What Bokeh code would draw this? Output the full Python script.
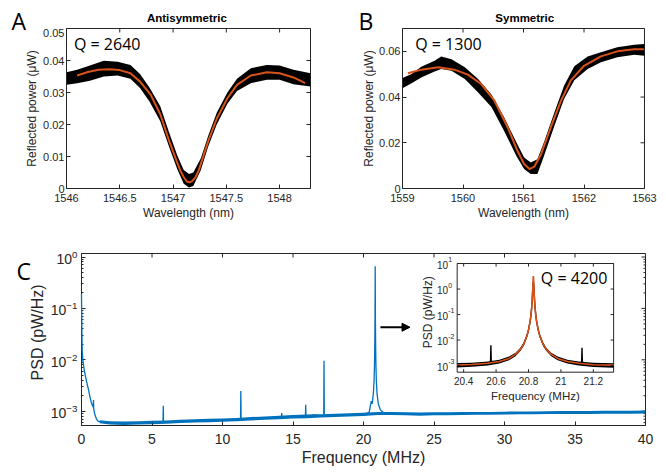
import math
from bokeh.plotting import figure
from bokeh.models import Range1d, FixedTicker, Label, Arrow, NormalHead, LogScale
from bokeh.layouts import column, row
from bokeh.embed import file_html
from bokeh.resources import INLINE
from bokeh.core.properties import value

# ---------------- data: panel A (antisymmetric) ----------------
A_FIT_WL = [1546.10, 1546.20, 1546.30, 1546.40, 1546.50, 1546.60, 1546.69, 1546.79,
            1546.88, 1546.96, 1547.04, 1547.07, 1547.10, 1547.13, 1547.155, 1547.18,
            1547.21, 1547.24, 1547.26, 1547.33, 1547.41, 1547.51, 1547.60, 1547.73,
            1547.88, 1548.00, 1548.13, 1548.24]
A_FIT_P = [0.0353, 0.0364, 0.0371, 0.0373, 0.0370, 0.0360, 0.0334, 0.0293,
           0.0232, 0.0152, 0.0080, 0.0055, 0.0036, 0.0022, 0.0019, 0.0023,
           0.0035, 0.0056, 0.0076, 0.0148, 0.0218, 0.0282, 0.0324, 0.0353,
           0.0363, 0.0360, 0.0347, 0.0329]
A_BAND_WL = [1546.00, 1546.10, 1546.22, 1546.35, 1546.48, 1546.60, 1546.69, 1546.78,
             1546.88, 1546.96, 1547.04, 1547.10, 1547.15, 1547.19, 1547.26, 1547.33,
             1547.41, 1547.51, 1547.60, 1547.73, 1547.88, 1548.00, 1548.13, 1548.29]
A_BAND_HI = [0.0363, 0.0371, 0.0384, 0.0399, 0.0396, 0.0386, 0.0358, 0.0315,
             0.0257, 0.0178, 0.0103, 0.0058, 0.0045, 0.0050, 0.0094, 0.0165,
             0.0237, 0.0300, 0.0343, 0.0376, 0.0386, 0.0384, 0.0371, 0.0360]
A_BAND_LO = [0.0324, 0.0329, 0.0337, 0.0350, 0.0353, 0.0343, 0.0314, 0.0271,
             0.0210, 0.0133, 0.0060, 0.0015, 0.0003, 0.0008, 0.0057, 0.0131,
             0.0200, 0.0265, 0.0305, 0.0329, 0.0340, 0.0340, 0.0326, 0.0319]
A_XTICKS = [1546, 1546.5, 1547, 1547.5, 1548]
A_XLABELS = ["1546", "1546.5", "1547", "1547.5", "1548"]
A_YTICKS = [0, 0.01, 0.02, 0.03, 0.04, 0.05]
A_YLABELS = ["0", "0.01", "0.02", "0.03", "0.04", "0.05"]

# ---------------- data: panel B (symmetric) ----------------
B_FIT_WL = [1559.09, 1559.31, 1559.59, 1559.86, 1560.08, 1560.30, 1560.52, 1560.74,
            1560.90, 1561.01, 1561.10, 1561.18, 1561.29, 1561.45, 1561.62, 1561.78,
            1562.00, 1562.28, 1562.55, 1562.83, 1562.99]
B_FIT_P = [0.0504, 0.0520, 0.0530, 0.0520, 0.0498, 0.0457, 0.0384, 0.0267,
           0.0165, 0.0107, 0.0085, 0.0096, 0.0150, 0.0267, 0.0384, 0.0472,
           0.0537, 0.0578, 0.0600, 0.0609, 0.0609]
B_BAND_WL = [1559.00, 1559.15, 1559.31, 1559.53, 1559.64, 1559.81, 1560.03, 1560.25,
             1560.47, 1560.68, 1560.88, 1561.01, 1561.12, 1561.23, 1561.34, 1561.51,
             1561.67, 1561.84, 1562.06, 1562.28, 1562.55, 1562.83, 1563.00]
B_BAND_HI = [0.0483, 0.0501, 0.0533, 0.0559, 0.0577, 0.0566, 0.0530, 0.0479,
             0.0411, 0.0312, 0.0203, 0.0136, 0.0114, 0.0128, 0.0203, 0.0333,
             0.0450, 0.0535, 0.0577, 0.0596, 0.0618, 0.0629, 0.0632]
B_BAND_LO = [0.0439, 0.0460, 0.0486, 0.0512, 0.0523, 0.0515, 0.0479, 0.0420,
             0.0357, 0.0252, 0.0143, 0.0085, 0.0063, 0.0063, 0.0143, 0.0273,
             0.0392, 0.0474, 0.0523, 0.0552, 0.0574, 0.0585, 0.0581]
B_XTICKS = [1559, 1560, 1561, 1562, 1563]
B_XLABELS = ["1559", "1560", "1561", "1562", "1563"]
B_YTICKS = [0, 0.02, 0.04, 0.06]
B_YLABELS = ["0", "0.02", "0.04", "0.06"]

# ---------------- data: panel C (PSD spectrum) ----------------
C_FREQ = [0.00, 0.02, 0.05, 0.10, 0.20, 0.30, 0.40, 0.50, 0.60, 0.70,
          0.80, 0.83, 0.85, 0.87, 0.95, 1.05, 1.15, 1.30, 2.0, 3.0,
          4.0, 5.0, 5.78, 5.80, 5.82, 6.0, 7.0, 8.0, 9.0, 10.0,
          11.0, 11.28, 11.30, 11.32, 12.0, 13.0, 14.0, 14.18, 14.20, 14.22,
          15.0, 15.88, 15.90, 15.92, 16.0, 16.5, 17.0, 17.18, 17.20, 17.22,
          18.0, 19.0, 20.0, 20.40, 20.55, 20.62, 20.70, 20.75, 20.78, 20.80,
          20.815, 20.825, 20.83, 20.835, 20.845, 20.86, 20.88, 20.91, 20.96, 21.05,
          21.20, 21.40, 22.0, 23.0, 24.0, 25.0, 26.0, 27.0, 28.0, 29.0,
          30.0, 31.0, 32.0, 33.0, 34.0, 35.0, 36.0, 37.0, 38.0, 39.0,
          40.0]
C_PSD = [0.19, 0.05, 0.015, 0.0095, 0.0062, 0.0045, 0.0034, 0.0026, 0.0019, 0.00145,
         0.00125, 0.0012, 0.00165, 0.0011, 0.00085, 0.00072, 0.00065, 0.00062, 0.00059, 0.00058,
         0.00059, 0.00060, 0.00061, 0.00128, 0.00061, 0.00061, 0.00063, 0.00065, 0.00066, 0.00067,
         0.00069, 0.00070, 0.00248, 0.00070, 0.00071, 0.00073, 0.00075, 0.00076, 0.00092, 0.00076,
         0.00077, 0.00079, 0.00134, 0.00079, 0.00079, 0.00085, 0.00081, 0.00081, 0.0096, 0.00081,
         0.00083, 0.00085, 0.00087, 0.00095, 0.00157, 0.0014, 0.0022, 0.004, 0.008, 0.02,
         0.06, 0.25, 0.66, 0.3, 0.06, 0.02, 0.008, 0.004, 0.0022, 0.0014,
         0.00105, 0.00095, 0.00090, 0.00089, 0.00088, 0.00089, 0.00089, 0.00090, 0.00091, 0.00091,
         0.00092, 0.00093, 0.00093, 0.00094, 0.00095, 0.00095, 0.00095, 0.00096, 0.00096, 0.00096,
         0.00097]
C_BAND_F = [1.3, 2, 3, 4, 5, 6, 7, 8, 9, 10, 11, 12, 13, 14, 15, 16, 17, 18, 19, 20,
            21, 22, 23, 24, 25, 26, 27, 28, 29, 30, 31, 32, 33, 34, 35, 36, 37, 38, 39, 40]
C_BAND_HI = [6.7e-4, 6.4e-4, 6.3e-4, 6.4e-4, 6.5e-4, 6.6e-4, 6.8e-4, 7.0e-4, 7.1e-4, 7.2e-4,
             7.4e-4, 7.7e-4, 7.9e-4, 8.2e-4, 8.4e-4, 8.6e-4, 8.7e-4, 8.9e-4, 9.1e-4, 9.3e-4,
             9.6e-4, 9.6e-4, 9.5e-4, 9.4e-4, 9.5e-4, 9.5e-4, 9.6e-4, 9.7e-4, 9.7e-4, 9.8e-4,
             9.9e-4, 9.9e-4, 10.0e-4, 10.1e-4, 10.1e-4, 10.1e-4, 10.2e-4, 10.2e-4, 10.2e-4, 10.3e-4]
C_BAND_LO = [5.8e-4, 5.5e-4, 5.4e-4, 5.5e-4, 5.6e-4, 5.7e-4, 5.9e-4, 6.0e-4, 6.1e-4, 6.2e-4,
             6.4e-4, 6.6e-4, 6.8e-4, 7.0e-4, 7.2e-4, 7.3e-4, 7.5e-4, 7.7e-4, 7.9e-4, 8.1e-4,
             8.4e-4, 8.4e-4, 8.3e-4, 8.2e-4, 8.3e-4, 8.3e-4, 8.4e-4, 8.5e-4, 8.5e-4, 8.6e-4,
             8.7e-4, 8.7e-4, 8.8e-4, 8.8e-4, 8.8e-4, 8.8e-4, 8.9e-4, 8.9e-4, 8.9e-4, 9.0e-4]
C_XTICKS = [0, 5, 10, 15, 20, 25, 30, 35, 40]
C_YTICKS = [1e-3, 1e-2, 1e-1, 1.0]

# ---------------- data: inset (zoom on mechanical mode) ----------------
INSET_F = [20.36, 20.42, 20.48, 20.54, 20.560, 20.566, 20.568, 20.570, 20.576, 20.62,
           20.68, 20.72, 20.75, 20.77, 20.79, 20.80, 20.81, 20.815, 20.82, 20.823,
           20.825, 20.827, 20.83, 20.833, 20.835, 20.837, 20.84, 20.845, 20.85, 20.86,
           20.87, 20.89, 20.91, 20.94, 20.98, 21.04, 21.11, 21.124, 21.128, 21.130,
           21.132, 21.136, 21.20, 21.26, 21.325]
INSET_PSD = [1.0e-3, 1.05e-3, 1.1e-3, 1.2e-3, 1.22e-3, 1.6e-3, 6.2e-3, 1.6e-3, 1.25e-3, 1.42e-3,
             1.9e-3, 2.7e-3, 4.3e-3, 6.9e-3, 0.0145, 0.025, 0.054, 0.093, 0.2, 0.39,
             0.68, 1.3, 2.0, 1.3, 0.68, 0.39, 0.2, 0.093, 0.054, 0.025,
             0.0145, 6.9e-3, 4.3e-3, 2.7e-3, 1.9e-3, 1.42e-3, 1.2e-3, 1.15e-3, 1.5e-3, 5.0e-3,
             1.5e-3, 1.12e-3, 1.05e-3, 1.0e-3, 0.98e-3]
INSET_BAND_F = [20.36, 20.45, 20.55, 20.62, 20.68, 20.72, 20.75, 20.77, 20.79, 20.80,
                20.81, 20.82, 20.825, 20.83, 20.835, 20.84, 20.85, 20.86, 20.87, 20.89,
                20.91, 20.94, 20.98, 21.04, 21.11, 21.20, 21.325]
INSET_BAND_HI = [1.25e-3, 1.3e-3, 1.45e-3, 1.7e-3, 2.25e-3, 3.2e-3, 5.0e-3, 8.0e-3, 0.017, 0.029,
                 0.062, 0.23, 0.75, 2.2, 0.75, 0.23, 0.062, 0.029, 0.017, 8.0e-3,
                 5.0e-3, 3.2e-3, 2.25e-3, 1.7e-3, 1.45e-3, 1.28e-3, 1.22e-3]
INSET_BAND_LO = [0.85e-3, 0.9e-3, 1.0e-3, 1.2e-3, 1.6e-3, 2.3e-3, 3.7e-3, 5.9e-3, 0.0123, 0.021,
                 0.046, 0.17, 0.6, 1.0, 0.6, 0.17, 0.046, 0.021, 0.0123, 5.9e-3,
                 3.7e-3, 2.3e-3, 1.6e-3, 1.2e-3, 1.0e-3, 0.88e-3, 0.83e-3]
INSET_FIT_F = [20.36, 20.45, 20.55, 20.62, 20.68, 20.72, 20.75, 20.77, 20.79, 20.80,
               20.81, 20.815, 20.82, 20.823, 20.825, 20.827, 20.8285, 20.83, 20.8315, 20.833,
               20.835, 20.837, 20.84, 20.845, 20.85, 20.86, 20.87, 20.89, 20.91, 20.94,
               20.98, 21.04, 21.11, 21.20, 21.325]
INSET_FIT_PSD = [1.05e-3, 1.10e-3, 1.23e-3, 1.44e-3, 1.91e-3, 2.74e-3, 4.33e-3, 6.95e-3, 0.0145, 0.0248,
                 0.054, 0.093, 0.20, 0.39, 0.68, 1.37, 2.4, 3.2, 2.4, 1.37,
                 0.68, 0.39, 0.20, 0.093, 0.054, 0.0248, 0.0145, 6.95e-3, 4.33e-3, 2.74e-3,
                 1.91e-3, 1.44e-3, 1.23e-3, 1.08e-3, 1.04e-3]
INSET_XLIM = (20.36, 21.325)
INSET_YLIM = (5.5e-4, 10.0)
INSET_XTICKS = [20.4, 20.6, 20.8, 21.0, 21.2]
INSET_XLABELS = ["20.4", "20.6", "20.8", "21", "21.2"]
INSET_YTICKS = [1e-3, 1e-2, 1e-1, 1.0, 10.0]
INSET_YEXP = ["-3", "-2", "-1", "0", "1"]

assert len(C_FREQ) == len(C_PSD)
assert len(INSET_F) == len(INSET_PSD)
assert len(INSET_FIT_F) == len(INSET_FIT_PSD)
assert len(INSET_BAND_F) == len(INSET_BAND_HI) == len(INSET_BAND_LO)

# ---------------- styling ----------------
INK = "#262626"
ORANGE = "#D95319"
BLUE = "#0072BD"
FONT = "Liberation Sans"
ANNOT_FONT = "Open Sans"


def style_axis(ax, tick_px, label_px, std, lstd, minor=False):
    ax.axis_line_color = INK
    ax.major_tick_line_color = INK
    ax.major_tick_in = 4
    ax.major_tick_out = 0
    ax.minor_tick_in = 2 if minor else 0
    ax.minor_tick_out = 0
    ax.minor_tick_line_color = INK if minor else None
    ax.major_label_text_font = FONT
    ax.major_label_text_font_size = f"{tick_px}px"
    ax.major_label_text_color = INK
    ax.major_label_standoff = std
    ax.axis_label_text_font = FONT
    ax.axis_label_text_font_size = f"{label_px}px"
    ax.axis_label_text_font_style = "normal"
    ax.axis_label_text_color = INK
    ax.axis_label_standoff = lstd


def mirror_ticks(p, xticks, yticks, fw, fh, xr, yr, ylog=False, yminor=(), tl=4.0):
    """Inward ticks on the top and right edges of the frame (box style)."""
    dx = tl * (xr[1] - xr[0]) / fw
    n = len(xticks)
    if ylog:
        f = 10 ** (tl * (math.log10(yr[1]) - math.log10(yr[0])) / fh)
        p.segment(x0=xticks, x1=xticks, y0=[yr[1]] * n, y1=[yr[1] / f] * n, line_color=INK)
    else:
        dy = tl * (yr[1] - yr[0]) / fh
        p.segment(x0=xticks, x1=xticks, y0=[yr[1]] * n, y1=[yr[1] - dy] * n, line_color=INK)
    m = len(yticks)
    p.segment(x0=[xr[1]] * m, x1=[xr[1] - dx] * m, y0=yticks, y1=yticks, line_color=INK)
    if yminor:
        k = len(yminor)
        p.segment(x0=[xr[1]] * k, x1=[xr[1] - dx / 2] * k, y0=list(yminor), y1=list(yminor),
                  line_color=INK)


def base_fig(**kw):
    p = figure(output_backend="svg", toolbar_location=None, **kw)
    p.xgrid.grid_line_color = None
    p.ygrid.grid_line_color = None
    p.outline_line_color = INK
    p.background_fill_color = "white"
    p.border_fill_color = "white"
    return p


def strip(w, h):
    """A plain text strip: its frame fills the whole area, coordinates in pixels."""
    s = figure(width=w, height=h, x_range=Range1d(0, w), y_range=Range1d(h, 0),
               x_axis_location=None, y_axis_location=None, min_border=0,
               output_backend="svg", toolbar_location=None)
    s.min_border_left = s.min_border_right = s.min_border_top = s.min_border_bottom = 0
    s.xgrid.grid_line_color = None
    s.ygrid.grid_line_color = None
    s.outline_line_color = None
    s.border_fill_color = "white"
    return s


def letter(s, x, y, t):
    # y is the vertical centre of the capital letter
    s.add_layout(Label(x=x, y=y, text=t, text_font=ANNOT_FONT, text_font_size="23px",
                       text_color="black", text_baseline="middle"))


def heading(s, x, y, t):
    s.add_layout(Label(x=x, y=y, text=t, text_font=FONT, text_font_size="11.5px",
                       text_font_style="bold", text_color="black", text_align="center",
                       text_baseline="middle"))


def vlabel(s, x, y, t, size):
    s.add_layout(Label(x=x, y=y, text=t, angle=math.pi / 2, text_font=FONT,
                       text_font_size=size, text_color=INK, text_align="center",
                       text_baseline="middle"))


HEAD_H, TOP_H = 28, 200


def spectrum_panel(xr, yr, xt, xl, yt, yl, width, left, right, fit_x, fit_y,
                   band_x, band_lo, band_hi, q_text, q_xy):
    bottom = 40
    p = base_fig(width=width, height=TOP_H, min_border_left=left, min_border_right=right,
                 min_border_top=0, min_border_bottom=bottom,
                 x_range=Range1d(*xr), y_range=Range1d(*yr))
    p.xaxis.ticker = FixedTicker(ticks=xt)
    p.yaxis.ticker = FixedTicker(ticks=yt)
    p.xaxis.major_label_overrides = dict(zip(xt, xl))
    p.yaxis.major_label_overrides = dict(zip(yt, yl))
    style_axis(p.xaxis[0], 11, 12, 5, 1)
    style_axis(p.yaxis[0], 11, 12, 2, 0)
    p.xaxis.axis_label = "Wavelength (nm)"
    fw, fh = width - left - right, TOP_H - bottom
    mirror_ticks(p, xt, yt, fw, fh, xr, yr)
    p.varea(x=band_x, y1=band_lo, y2=band_hi, fill_color="black")
    p.line(fit_x, fit_y, line_color=ORANGE, line_width=2)
    p.add_layout(Label(x=q_xy[0], y=q_xy[1], text=q_text, text_font=ANNOT_FONT,
                       text_font_size="16px", text_color="black",
                       text_baseline="middle"))
    return p


# top row: [strip A | heading A over panel A | strip B | heading B over panel B]
SA_W, SB_W = 40, 36
pA = spectrum_panel((1546, 1548.29), (0, 0.05), A_XTICKS, A_XLABELS,
                    A_YTICKS, A_YLABELS, 340 - SA_W, 66 - SA_W, 30, A_FIT_WL, A_FIT_P,
                    A_BAND_WL, A_BAND_LO, A_BAND_HI, "Q = 2640", (1546.07, 0.0451))
pB = spectrum_panel((1559, 1563), (0, 0.07), B_XTICKS, B_XLABELS,
                    B_YTICKS, B_YLABELS, 326 - SB_W, 61 - SB_W, 22, B_FIT_WL, B_FIT_P,
                    B_BAND_WL, B_BAND_LO, B_BAND_HI, "Q = 1300", (1559.21, 0.0634))

ylab_A = "Reflected power (\u03bcW)"
sA = strip(SA_W, HEAD_H + TOP_H)
letter(sA, 11, 20.5, "A")
vlabel(sA, 31.7, HEAD_H + (TOP_H - 40) / 2, ylab_A, "12px")
hA = strip(340 - SA_W, HEAD_H)
heading(hA, 188 - SA_W, 17.5, "Antisymmetric")

sB = strip(SB_W, HEAD_H + TOP_H)
letter(sB, 18, 20.8, "B")
vlabel(sB, 28, HEAD_H + (TOP_H - 40) / 2, ylab_A, "12px")
hB = strip(326 - SB_W, HEAD_H)
heading(hB, 522.5 - 340 - SB_W, 17.5, "Symmetric")

# ---------------- panel C ----------------
SC_W = 47                      # left strip: panel letter and y-axis title
CW, CH = 666 - SC_W, 242
FL, FR, FT, FB = 79 - SC_W, 21, 25, 45
FW, FH = CW - FL - FR, CH - FT - FB
C_XR, C_YR = (0, 40), (5.27e-4, 1.17)
pC = base_fig(width=CW, height=CH, min_border_left=FL, min_border_right=FR,
              min_border_top=FT, min_border_bottom=FB, x_range=Range1d(*C_XR),
              y_range=Range1d(*C_YR), y_axis_type="log")
minor_y = [m * d for d in [1e-4, 1e-3, 1e-2, 1e-1, 1.0] for m in range(2, 10)
           if C_YR[0] < m * d < C_YR[1]]
pC.xaxis.ticker = FixedTicker(ticks=C_XTICKS)
pC.yaxis.ticker = FixedTicker(ticks=C_YTICKS, minor_ticks=minor_y)
style_axis(pC.xaxis[0], 14, 16, 8, 2)
style_axis(pC.yaxis[0], 14, 16, 4, 0, minor=True)
pC.xaxis.axis_label = "Frequency (MHz)"
mirror_ticks(pC, C_XTICKS, C_YTICKS, FW, FH, C_XR, C_YR, ylog=True, yminor=minor_y)

pC.varea(x=C_BAND_F, y1=C_BAND_LO, y2=C_BAND_HI, fill_color=BLUE)
blue = pC.line(C_FREQ, C_PSD, line_color=BLUE, line_width=1.3)
blue.level = "overlay"

# inset placed through extra ranges (pixel box of the inset inside the frame)
C_TOP = HEAD_H + TOP_H
IL, IR, IT, IB = 456 - 79, 613 - 79, 263 - C_TOP - FT, 371.7 - C_TOP - FT
kx = (IR - IL) / (INSET_XLIM[1] - INSET_XLIM[0])
ly0, ly1 = math.log10(INSET_YLIM[0]), math.log10(INSET_YLIM[1])
ky = (IB - IT) / (ly1 - ly0)
pC.extra_x_ranges = {"ix": Range1d(INSET_XLIM[0] - IL / kx, INSET_XLIM[1] + (FW - IR) / kx)}
pC.extra_y_ranges = {"iy": Range1d(10 ** (ly0 - (FH - IB) / ky), 10 ** (ly1 + IT / ky))}
pC.extra_y_scales = {"iy": LogScale()}
IN = dict(x_range_name="ix", y_range_name="iy")

pC.quad(left=[INSET_XLIM[0]], right=[INSET_XLIM[1]], bottom=[INSET_YLIM[0]],
        top=[INSET_YLIM[1]], fill_color="white", line_color=INK, line_width=1, **IN)
pC.varea(x=INSET_BAND_F, y1=INSET_BAND_LO, y2=INSET_BAND_HI, fill_color="black", **IN)
pC.line(INSET_F, INSET_PSD, line_color="black", line_width=1.4, **IN)
pC.line(INSET_FIT_F, INSET_FIT_PSD, line_color=ORANGE, line_width=1.6, **IN)

tl = 3.0
up = 10 ** (tl / ky)
nx, ny = len(INSET_XTICKS), len(INSET_YTICKS)
pC.segment(x0=INSET_XTICKS, x1=INSET_XTICKS, y0=[INSET_YLIM[0]] * nx,
           y1=[INSET_YLIM[0] * up] * nx, line_color=INK, **IN)
pC.segment(x0=INSET_XTICKS, x1=INSET_XTICKS, y0=[INSET_YLIM[1]] * nx,
           y1=[INSET_YLIM[1] / up] * nx, line_color=INK, **IN)
pC.segment(x0=[INSET_XLIM[0]] * ny, x1=[INSET_XLIM[0] + tl / kx] * ny, y0=INSET_YTICKS,
           y1=INSET_YTICKS, line_color=INK, **IN)
pC.segment(x0=[INSET_XLIM[1]] * ny, x1=[INSET_XLIM[1] - tl / kx] * ny, y0=INSET_YTICKS,
           y1=INSET_YTICKS, line_color=INK, **IN)
pC.text(x=INSET_XTICKS, y=[INSET_YLIM[0]] * nx, text=INSET_XLABELS, y_offset=5,
        text_align="center", text_baseline="top", text_font=value(FONT),
        text_font_size=value("10px"), text_color=INK, **IN)
pC.text(x=[INSET_XLIM[0]] * ny, y=INSET_YTICKS, text=["10"] * ny, x_offset=-9, y_offset=1,
        text_align="right", text_baseline="middle", text_font=value(FONT),
        text_font_size=value("10px"), text_color=INK, **IN)
pC.text(x=[INSET_XLIM[0]] * ny, y=INSET_YTICKS, text=INSET_YEXP, x_offset=-9, y_offset=-4,
        text_align="left", text_baseline="middle", text_font=value(FONT),
        text_font_size=value("7px"), text_color=INK, **IN)
pC.text(x=[(INSET_XLIM[0] + INSET_XLIM[1]) / 2], y=[INSET_YLIM[0]], text=["Frequency (MHz)"],
        y_offset=24, text_align="center", text_baseline="middle", text_font=value(FONT),
        text_font_size=value("11.5px"), text_color=INK, **IN)
pC.text(x=[INSET_XLIM[0]], y=[0.124], text=["PSD (pW/Hz)"], x_offset=-29, angle=math.pi / 2,
        text_align="center", text_baseline="middle", text_font=value(FONT),
        text_font_size=value("12px"), text_color=INK, **IN)
pC.add_layout(Label(x=20.876, y=2.7, text="Q = 4200", text_font=ANNOT_FONT,
                    text_font_size="16px", text_color="black", text_baseline="middle",
                    **IN))

ARROW_F = (21.2, 23.3)
ARROW_PSD = 0.043
pC.add_layout(Arrow(end=NormalHead(size=8, fill_color="black", line_color="black"),
                    x_start=ARROW_F[0], y_start=ARROW_PSD, x_end=ARROW_F[1], y_end=ARROW_PSD,
                    line_width=2, line_color="black"))

hC = strip(SC_W, CH)
letter(hC, 16, 253.3 - C_TOP, "C")
vlabel(hC, 37.3, FT + FH / 2, "PSD (pW/Hz)", "16px")

layout = column(row(sA, column(hA, pA), sB, column(hB, pB)), row(hC, pC))
open("out.html", "w").write(file_html(layout, INLINE))
